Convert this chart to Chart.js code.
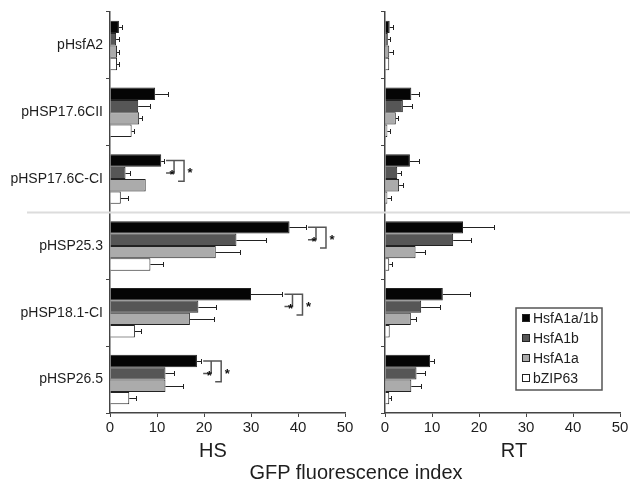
<!DOCTYPE html>
<html>
<head>
<meta charset="utf-8">
<script src="https://cdn.jsdelivr.net/npm/chart.js@4/dist/chart.umd.min.js"></script>
<style>
  body { margin: 0; background: #fff; }
  #wrap { position: relative; width: 631px; height: 486px; overflow: hidden; font-family: "Liberation Sans", Arial, sans-serif; color: #1e1e1e; }
  canvas { position: absolute; top: 0; }
  #hs { left: 0; }
  #rt { left: 365px; }
  .lbl { position: absolute; font-size: 20px; transform: translate(-50%, -50%); white-space: nowrap; }
</style>
</head>
<body>
<div id="wrap">
  <canvas id="hs" width="365" height="486"></canvas>
  <canvas id="rt" width="266" height="486"></canvas>
  <div class="lbl" style="left:213px; top:450px;">HS</div>
  <div class="lbl" style="left:514px; top:450px;">RT</div>
  <div class="lbl" style="left:356px; top:472px;">GFP fluorescence index</div>
</div>
<script>
const categories = ['pHsfA2', 'pHSP17.6CII', 'pHSP17.6C-CI', 'pHSP25.3', 'pHSP18.1-CI', 'pHSP26.5'];
const seriesNames = ['HsfA1a/1b', 'HsfA1b', 'HsfA1a', 'bZIP63'];
const seriesColors = ['#050505', '#565656', '#ababab', '#ffffff'];
const xTicks = [0, 10, 20, 30, 40, 50];

// HS
const hsA1a1b = [1.9, 9.6, 10.9, 38.2, 30.0, 18.5];
const hsA1a1bErr = [0.6, 2.8, 0.6, 3.5, 6.7, 0.9];
const hsA1b = [1.3, 6.0, 3.3, 26.9, 18.8, 11.8];
const hsA1bErr = [0.6, 2.5, 1.0, 6.3, 3.8, 1.9];
const hsA1a = [1.5, 6.2, 7.6, 22.5, 17.0, 11.8];
const hsA1aErr = [0.5, 0.6, 0, 5.1, 5.2, 3.7];
const hsZIP = [1.5, 4.6, 2.3, 8.6, 5.3, 4.1];
const hsZIPErr = [0.4, 0.6, 1.5, 2.6, 1.3, 1.4];
const hsSignificant = [2, 3, 4, 5];

// RT
const rtA1a1b = [1.0, 5.6, 5.3, 16.6, 12.3, 9.6];
const rtA1a1bErr = [0.6, 1.6, 1.9, 6.6, 5.7, 0.9];
const rtA1b = [0.6, 3.8, 2.6, 14.5, 7.7, 6.7];
const rtA1bErr = [0.4, 2.0, 0.8, 3.7, 4.1, 1.9];
const rtA1a = [0.9, 2.3, 3.0, 6.5, 5.5, 5.6];
const rtA1aErr = [0.9, 0.4, 0.8, 2.1, 1.2, 2.0];
const rtZIP = [0.9, 0.5, 0.5, 0.9, 1.0, 0.9];
const rtZIPErr = [0, 0.6, 0.7, 0.5, 0, 0.4];

Chart.defaults.font.family = '"Liberation Sans", Arial, sans-serif';
Chart.defaults.font.size = 14;
Chart.defaults.color = '#1e1e1e';

function makeDatasets(values, errors) {
    return values.map((v, i) => ({
        label: seriesNames[i],
        data: v,
        errors: errors[i],
        backgroundColor: seriesColors[i],
        borderColor: '#222',
        borderWidth: 1,
        categoryPercentage: 0.74,
        barPercentage: 1.0
    }));
}

const errorBars = {
    id: 'errorBars',
    afterDatasetsDraw(chart) {
        const ctx = chart.ctx;
        const xs = chart.scales.x;
        ctx.save();
        ctx.strokeStyle = '#222';
        ctx.lineWidth = 1;
        chart.data.datasets.forEach((ds, i) => {
            chart.getDatasetMeta(i).data.forEach((bar, j) => {
                const e = ds.errors[j];
                if (!e) return;
                const x1 = Math.round(xs.getPixelForValue(ds.data[j] + e)) + 0.5;
                const y = Math.round(bar.y) + 0.5;
                ctx.beginPath();
                ctx.moveTo(bar.x, y);
                ctx.lineTo(x1, y);
                ctx.moveTo(x1, y - 2.5);
                ctx.lineTo(x1, y + 2.5);
                ctx.stroke();
            });
        });
        ctx.restore();
    }
};

const separator = {
    id: 'separator',
    beforeDatasetsDraw(chart, args, opts) {
        const ys = chart.scales.y;
        const y = (ys.getPixelForValue(2) + ys.getPixelForValue(3)) / 2;
        const ctx = chart.ctx;
        ctx.save();
        ctx.strokeStyle = '#dcdcdc';
        ctx.lineWidth = 2;
        ctx.beginPath();
        ctx.moveTo(opts.from, y);
        ctx.lineTo(opts.to, y);
        ctx.stroke();
        ctx.restore();
    }
};

const brackets = {
    id: 'brackets',
    afterDatasetsDraw(chart, args, opts) {
        if (!opts.items) return;
        const ctx = chart.ctx;
        const xs = chart.scales.x;
        const ds0 = chart.data.datasets[0];
        const m0 = chart.getDatasetMeta(0), m1 = chart.getDatasetMeta(1), m2 = chart.getDatasetMeta(2);
        ctx.save();
        ctx.strokeStyle = '#555';
        ctx.lineWidth = 1.5;
        ctx.fillStyle = '#111';
        ctx.font = 'bold 13px "Liberation Sans", Arial, sans-serif';
        ctx.textAlign = 'center';
        ctx.textBaseline = 'middle';
        opts.items.forEach(j => {
            const end = xs.getPixelForValue(ds0.data[j] + ds0.errors[j]);
            const inner = end + 10, outer = end + 20;
            const top = m0.data[j].y;
            const mid = m1.data[j].y;
            const bottom = m2.data[j].y - 4;
            ctx.beginPath();
            ctx.moveTo(inner - 8, top);
            ctx.lineTo(outer, top);
            ctx.lineTo(outer, bottom);
            ctx.lineTo(outer - 6, bottom);
            ctx.moveTo(inner, top);
            ctx.lineTo(inner, mid);
            ctx.lineTo(inner - 8, mid);
            ctx.stroke();
            ctx.fillText('*', inner - 2, mid + 3);
            ctx.fillText('*', outer + 6, (top + bottom) / 2 + 3);
        });
        ctx.restore();
    }
};

const boxLegend = {
    id: 'boxLegend',
    afterDraw(chart, args, opts) {
        if (!opts.show) return;
        const ctx = chart.ctx;
        const a = chart.chartArea;
        const left = a.left + opts.dx, top = a.top + opts.dy;
        ctx.save();
        ctx.strokeStyle = '#555';
        ctx.lineWidth = 1.5;
        ctx.fillStyle = '#fff';
        ctx.fillRect(left, top, opts.w, opts.h);
        ctx.strokeRect(left, top, opts.w, opts.h);
        ctx.font = '14px "Liberation Sans", Arial, sans-serif';
        ctx.textBaseline = 'middle';
        ctx.lineWidth = 1;
        chart.data.datasets.forEach((ds, i) => {
            const cy = top + 10 + i * 20;
            ctx.fillStyle = ds.backgroundColor;
            ctx.fillRect(left + 6.5, cy - 3.5, 7, 7);
            ctx.strokeStyle = '#222';
            ctx.strokeRect(left + 6.5, cy - 3.5, 7, 7);
            ctx.fillStyle = '#1e1e1e';
            ctx.fillText(ds.label, left + 17, cy + 1);
        });
        ctx.restore();
    }
};

function makeChart(id, values, errors, opt) {
    return new Chart(document.getElementById(id), {
        type: 'bar',
        data: { labels: categories, datasets: makeDatasets(values, errors) },
        options: {
            indexAxis: 'y',
            responsive: false,
            animation: false,
            devicePixelRatio: 1,
            layout: { padding: { top: 12, right: opt.padRight, bottom: 0, left: 0 } },
            scales: {
                x: {
                    min: 0,
                    max: 50,
                    afterBuildTicks: s => { s.ticks = xTicks.map(v => ({ value: v })); },
                    afterFit: s => { s.height = 73; },
                    grid: { drawOnChartArea: false, drawTicks: true, tickLength: 4, color: '#444' },
                    border: { display: true, color: '#444', width: 1.5 },
                    ticks: { font: { size: 15 }, padding: 2, maxRotation: 0 }
                },
                y: {
                    afterFit: s => { s.width = opt.yWidth; },
                    grid: { drawOnChartArea: false, drawTicks: true, tickLength: 4, color: '#444', offset: true },
                    border: { display: true, color: '#444', width: 1.5 },
                    ticks: { display: opt.showLabels, padding: 3, font: { size: 14 }, color: '#1e1e1e' }
                }
            },
            plugins: {
                legend: { display: false },
                tooltip: { enabled: false },
                separator: opt.separator,
                brackets: { items: opt.brackets },
                boxLegend: opt.legend
            }
        },
        plugins: [separator, errorBars, brackets, boxLegend]
    });
}

makeChart('hs', [hsA1a1b, hsA1b, hsA1a, hsZIP], [hsA1a1bErr, hsA1bErr, hsA1aErr, hsZIPErr], {
    padRight: 20, yWidth: 110, showLabels: true,
    separator: { from: 27, to: 365 },
    brackets: hsSignificant,
    legend: { show: false }
});

makeChart('rt', [rtA1a1b, rtA1b, rtA1a, rtZIP], [rtA1a1bErr, rtA1bErr, rtA1aErr, rtZIPErr], {
    padRight: 11, yWidth: 20, showLabels: false,
    separator: { from: 0, to: 265 },
    brackets: null,
    legend: { show: true, dx: 131, dy: 296, w: 86, h: 82 }
});
</script>
</body>
</html>
